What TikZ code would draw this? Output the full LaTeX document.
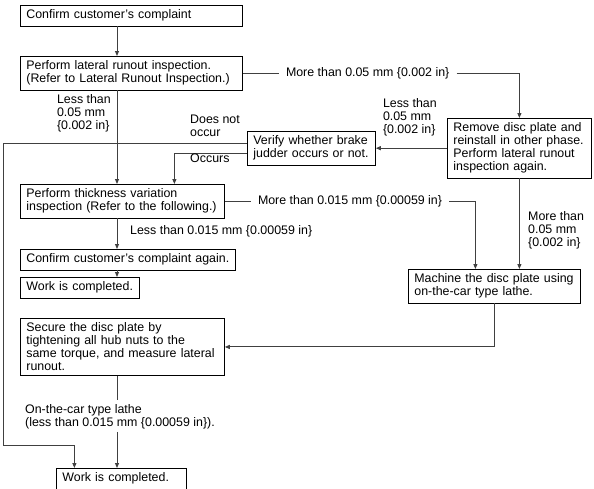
\documentclass[tikz,border=0pt]{standalone}
\usepackage{fontspec}
\setmainfont{Liberation Sans}
\usetikzlibrary{positioning,arrows.meta,calc}

\begin{document}
\begin{tikzpicture}[
    x=1pt, y=1pt,
    >={Triangle[length=5pt,width=4pt]},
    every node/.style={font=\fontsize{12.4}{13}\selectfont},
    box/.style={draw, line width=0.8pt, anchor=north west, align=left, inner xsep=6pt, inner ysep=4.5pt},
    lbl/.style={inner sep=0pt, align=left},
    midlbl/.style={inner xsep=7pt, inner ysep=0pt},
    flowline/.style={line width=1pt, black!75},
    flowarrow/.style={flowline, ->},
]
\useasboundingbox (0,0) rectangle (594,-488);

% ---- Left column: main flow ----
\coordinate (trunk) at (117,0);
\node[box, text width=210pt] (confirm) at (20,-5) {Confirm customer's complaint};
\node[box, text width=210pt] (lateral) at (20,-56) {Perform lateral runout inspection.\\(Refer to Lateral Runout Inspection.)};
\node[box, text width=192pt] (thickness) at (20,-184) {Perform thickness variation\\inspection (Refer to the following.)};
\node[box, text width=203pt] (confirmagain) at (20,-249) {Confirm customer's complaint again.};
\node[box, text width=107pt] (done) at (20,-277) {Work is completed.};
\node[box, text width=192pt] (secure) at (20,-318) {Secure the disc plate by\\tightening all hub nuts to the\\same torque, and measure lateral\\runout.};
\node[box, text width=118pt] (finaldone) at (56,-468) {Work is completed.};

% ---- Right side ----
\node[box, text width=132pt] (remove) at (447,-118) {Remove disc plate and\\reinstall in other phase.\\Perform lateral runout\\inspection again.};
\node[box, text width=116pt] (verify) at (247,-131) {Verify whether brake\\judder occurs or not.};
\node[box, text width=160pt] (machine) at (408,-269) {Machine the disc plate using\\on-the-car type lathe.};

% Trunk arrows
\draw[flowarrow] (confirm.south -| trunk) -- (lateral.north -| trunk);
\draw[flowarrow] (lateral.south -| trunk) -- (thickness.north -| trunk);
\draw[flowarrow] (thickness.south -| trunk) -- (confirmagain.north -| trunk);
\draw[flowarrow] (confirmagain.south -| trunk) -- (done.north -| trunk);
\node[lbl, anchor=north east] (lessrun) at ($(lateral.south -| trunk)+(-6,-3.5)$) {Less than\\0.05 mm\\\{0.002 in\}};
\node[lbl, anchor=west] (lessthk) at (130,-231) {Less than 0.015 mm \{0.00059 in\}};

% Runout too large
\node[midlbl, right=36pt of lateral] (morerun) {More than 0.05 mm \{0.002 in\}};
\draw[flowline] (lateral.east) -- (morerun.west);
\draw[flowarrow] (morerun.east) -| (remove.north);

% Re-inspection results
\draw[flowarrow] (remove.west) -- (verify.east);
\node[lbl, anchor=south west] (lessagain) at ($(verify.east)+(7,12)$) {Less than\\0.05 mm\\\{0.002 in\}};
\draw[flowarrow] (remove.south) -- (remove.south |- machine.north);
\node[lbl, anchor=north west] (moreagain) at (528,-211) {More than\\0.05 mm\\\{0.002 in\}};

% Judder check
\coordinate (leftedge) at (3,-445);
\draw[flowarrow] ([yshift=5pt]verify.west) -| (leftedge) -| ([xshift=-47pt]finaldone.north);
\node[lbl, anchor=south west] (notoccur) at (190,-137) {Does not\\occur};
\draw[flowarrow] ([yshift=-5pt]verify.west) -| ([xshift=52pt]thickness.north);
\node[lbl, anchor=north west] (occurs) at (190,-154) {Occurs};

% Thickness too large
\node[midlbl, right=26pt of thickness] (morethk) {More than 0.015 mm \{0.00059 in\}};
\draw[flowline] (thickness.east) -- (morethk.west);
\draw[flowarrow] (morethk.east) -| ([xshift=-19pt]machine.north);

% Lathe back to re-check
\draw[flowarrow] (machine.south) |- (secure.east);
\node[lbl, anchor=north west] (lathe) at (25,-404) {On-the-car type lathe\\(less than 0.015 mm \{0.00059 in\}).};
\draw[flowline] (secure.south -| trunk) -- ($(lathe.north -| trunk)+(0,4)$);
\draw[flowarrow] ($(lathe.south -| trunk)+(0,-3)$) -- (finaldone.north -| trunk);

\end{tikzpicture}
\end{document}
